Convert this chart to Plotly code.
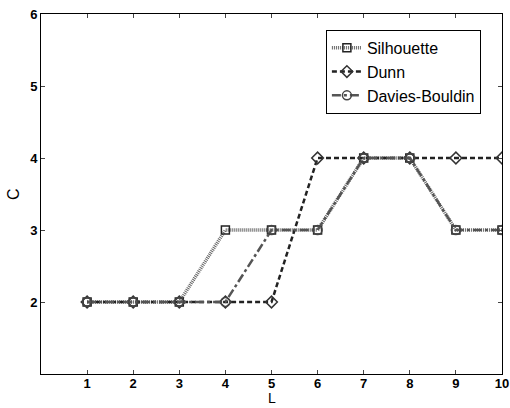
import plotly.graph_objects as go

L = [1, 2, 3, 4, 5, 6, 7, 8, 9, 10]
silhouette = [2, 2, 2, 3, 3, 3, 4, 4, 3, 3]
dunn = [2, 2, 2, 2, 2, 4, 4, 4, 4, 4]
davies_bouldin = [2, 2, 2, 2, 3, 3, 4, 4, 3, 3]
x_ticks = [1, 2, 3, 4, 5, 6, 7, 8, 9, 10]
y_ticks = [2, 3, 4, 5, 6]
x_title = "L"
y_title = "C"

fig = go.Figure()
fig.add_trace(go.Scatter(
    x=L, y=silhouette, name="Silhouette", mode="lines+markers",
    line=dict(color="#666666", width=3.5, dash="1px,1px"),
    marker=dict(symbol="square-open", size=8, color="#222222", line=dict(width=1.5)),
))
fig.add_trace(go.Scatter(
    x=L, y=dunn, name="Dunn", mode="lines+markers",
    line=dict(color="#222222", width=2.5, dash="5px,3px"),
    marker=dict(symbol="diamond-open", size=9, color="#333333", line=dict(width=1.5)),
))
fig.add_trace(go.Scatter(
    x=L, y=davies_bouldin, name="Davies-Bouldin", mode="lines+markers",
    line=dict(color="#555555", width=2.5, dash="dashdot"),
    marker=dict(symbol="circle-open", size=9, color="#444444", line=dict(width=1.5)),
))

font_family = "Liberation Sans, Arial, sans-serif"
fig.update_layout(
    width=510, height=408,
    margin=dict(l=41, r=8, t=14, b=34, autoexpand=False),
    paper_bgcolor="white", plot_bgcolor="white",
    font=dict(family=font_family, color="black", size=13),
    showlegend=True,
    legend=dict(
        x=0.618, y=0.956, xanchor="left", yanchor="top",
        bgcolor="white", bordercolor="black", borderwidth=1,
        font=dict(size=16, family=font_family),
        itemwidth=30, tracegroupgap=0,
    ),
    xaxis=dict(
        range=[0, 10], tickvals=x_ticks, ticks="inside", ticklen=4,
        showgrid=False, zeroline=False, showline=True, linecolor="black",
        mirror="ticks", linewidth=1, automargin=False,
        tickfont=dict(size=13, weight="bold"), ticklabeloverflow="allow",
        ticklabelstandoff=-3,
    ),
    yaxis=dict(
        range=[1, 6], tickvals=y_ticks, ticks="inside", ticklen=4,
        showgrid=False, zeroline=False, showline=True, linecolor="black",
        mirror="ticks", linewidth=1, automargin=False,
        tickfont=dict(size=13, weight="bold"), ticklabeloverflow="allow",
    ),
    annotations=[
        dict(text=x_title, xref="paper", yref="paper", x=0.5, y=-0.0944,
             xanchor="center", yanchor="bottom", showarrow=False,
             font=dict(size=14)),
        dict(text=y_title, xref="paper", yref="paper", x=-0.061, y=0.5,
             xanchor="center", yanchor="middle", showarrow=False,
             textangle=-90, font=dict(size=16)),
    ],
)

fig.write_html(
    "out.html",
    config={"displayModeBar": False},
    post_script="document.body.style.margin='0';document.body.style.overflow='hidden';",
)
